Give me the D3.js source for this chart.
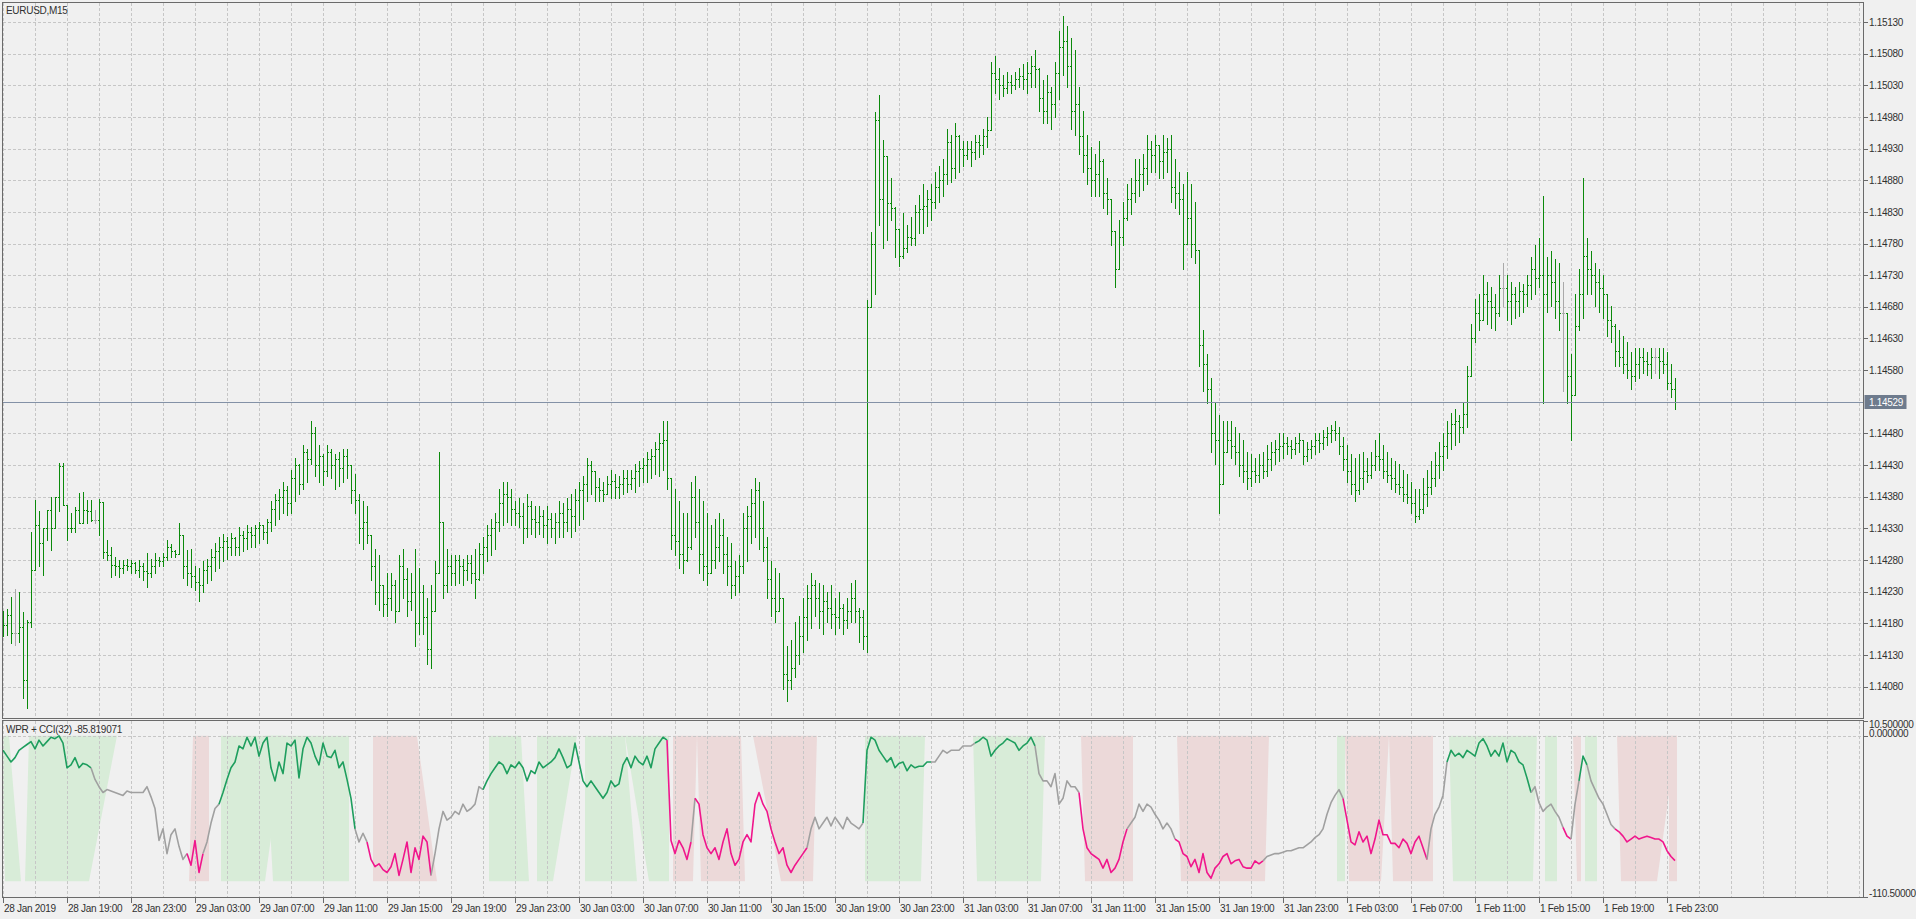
<!DOCTYPE html>
<html><head><meta charset="utf-8">
<script src="https://cdn.jsdelivr.net/npm/d3@7"></script>
<style>
html,body{margin:0;padding:0;background:#f0f0f0;overflow:hidden}
svg{display:block}
text{font-family:"Liberation Sans",Arial,sans-serif;font-size:10px;fill:#303030;letter-spacing:-0.3px}
</style></head><body>
<svg id="c" width="1916" height="919"></svg>
<script>
const symbolLabel = "EURUSD,M15";
const indicatorLabel = "WPR + CCI(32) -85.819071";
const timeLabels = ["28 Jan 2019","28 Jan 19:00","28 Jan 23:00","29 Jan 03:00","29 Jan 07:00","29 Jan 11:00","29 Jan 15:00","29 Jan 19:00","29 Jan 23:00","30 Jan 03:00","30 Jan 07:00","30 Jan 11:00","30 Jan 15:00","30 Jan 19:00","30 Jan 23:00","31 Jan 03:00","31 Jan 07:00","31 Jan 11:00","31 Jan 15:00","31 Jan 19:00","31 Jan 23:00","1 Feb 03:00","1 Feb 07:00","1 Feb 11:00","1 Feb 15:00","1 Feb 19:00","1 Feb 23:00"];
const timeLabelBars = [0,16,32,48,64,80,96,112,128,144,160,176,192,208,224,240,256,272,288,304,320,336,352,368,384,400,416];
const priceTicks = [1.15130,1.15080,1.15030,1.14980,1.14930,1.14880,1.14830,1.14780,1.14730,1.14680,1.14630,1.14580,1.14530,1.14480,1.14430,1.14380,1.14330,1.14280,1.14230,1.14180,1.14130,1.14080];
const priceTickLabels = ["1.15130","1.15080","1.15030","1.14980","1.14930","1.14880","1.14830","1.14780","1.14730","1.14680","1.14630","1.14580","","1.14480","1.14430","1.14380","1.14330","1.14280","1.14230","1.14180","1.14130","1.14080"];
const currentPrice = 1.14529;
const indTicks = [10.5, 0, -110.5];
const indTickLabels = ["10.500000","0.000000","-110.500000"];

const high = [
1.14200,1.14203,1.14222,1.14234,1.14230,1.14198,1.14185,1.14325,1.14375,1.14357,
1.14331,1.14359,1.14380,1.14380,1.14433,1.14433,1.14354,1.14354,1.14364,1.14386,
1.14388,1.14375,1.14375,1.14359,1.14377,1.14335,1.14312,1.14301,1.14285,1.14280,
1.14280,1.14282,1.14280,1.14277,1.14280,1.14275,1.14291,1.14282,1.14291,1.14285,
1.14291,1.14312,1.14306,1.14296,1.14338,1.14312,1.14296,1.14298,1.14270,1.14268,
1.14278,1.14282,1.14297,1.14307,1.14317,1.14321,1.14317,1.14323,1.14317,1.14332,
1.14326,1.14336,1.14332,1.14336,1.14340,1.14336,1.14345,1.14374,1.14384,1.14393,
1.14403,1.14397,1.14422,1.14442,1.14432,1.14461,1.14455,1.14499,1.14490,1.14461,
1.14447,1.14461,1.14455,1.14447,1.14451,1.14455,1.14455,1.14422,1.14416,1.14384,
1.14374,1.14365,1.14317,1.14297,1.14288,1.14240,1.14259,1.14259,1.14249,1.14288,
1.14297,1.14268,1.14259,1.14297,1.14268,1.14240,1.14220,1.14240,1.14278,1.14451,
1.14317,1.14297,1.14288,1.14288,1.14288,1.14282,1.14288,1.14288,1.14297,1.14307,
1.14317,1.14336,1.14345,1.14355,1.14393,1.14403,1.14403,1.14393,1.14374,1.14378,
1.14370,1.14384,1.14374,1.14365,1.14365,1.14359,1.14365,1.14355,1.14355,1.14374,
1.14370,1.14378,1.14384,1.14393,1.14403,1.14413,1.14442,1.14436,1.14416,1.14409,
1.14403,1.14413,1.14422,1.14416,1.14413,1.14422,1.14422,1.14422,1.14432,1.14436,
1.14442,1.14451,1.14455,1.14466,1.14480,1.14499,1.14499,1.14410,1.14393,1.14374,
1.14355,1.14355,1.14403,1.14413,1.14393,1.14374,1.14355,1.14336,1.14345,1.14355,
1.14345,1.14317,1.14307,1.14278,1.14288,1.14355,1.14365,1.14393,1.14409,1.14403,
1.14374,1.14317,1.14278,1.14268,1.14259,1.14220,1.14144,1.14153,1.14182,1.14192,
1.14220,1.14240,1.14259,1.14249,1.14244,1.14240,1.14230,1.14240,1.14220,1.14230,
1.14211,1.14220,1.14244,1.14249,1.14205,1.14201,1.14691,1.14798,1.14988,1.15015,
1.14944,1.14860,1.14884,1.14838,1.14803,1.14829,1.14809,1.14822,1.14841,1.14857,
1.14874,1.14865,1.14874,1.14893,1.14903,1.14913,1.14961,1.14951,1.14970,1.14951,
1.14942,1.14942,1.14942,1.14951,1.14951,1.14961,1.14980,1.15067,1.15076,1.15057,
1.15047,1.15051,1.15047,1.15051,1.15057,1.15063,1.15067,1.15076,1.15086,1.15057,
1.15038,1.15047,1.15028,1.15067,1.15115,1.15140,1.15124,1.15105,1.15086,1.15028,
1.14990,1.14951,1.14932,1.14922,1.14942,1.14913,1.14884,1.14836,1.14797,1.14817,
1.14845,1.14874,1.14884,1.14913,1.14913,1.14922,1.14951,1.14942,1.14951,1.14932,
1.14951,1.14947,1.14951,1.14913,1.14893,1.14874,1.14893,1.14874,1.14845,1.14770,
1.14643,1.14605,1.14567,1.14528,1.14509,1.14499,1.14499,1.14499,1.14490,1.14480,
1.14470,1.14451,1.14447,1.14442,1.14447,1.14451,1.14461,1.14466,1.14470,1.14480,
1.14480,1.14474,1.14470,1.14474,1.14480,1.14470,1.14466,1.14470,1.14480,1.14480,
1.14486,1.14490,1.14493,1.14499,1.14490,1.14474,1.14461,1.14447,1.14442,1.14447,
1.14451,1.14442,1.14451,1.14470,1.14480,1.14461,1.14451,1.14442,1.14436,1.14432,
1.14422,1.14416,1.14403,1.14393,1.14393,1.14409,1.14422,1.14436,1.14451,1.14466,
1.14480,1.14499,1.14513,1.14518,1.14509,1.14528,1.14586,1.14653,1.14692,1.14701,
1.14730,1.14720,1.14711,1.14701,1.14730,1.14749,1.14730,1.14720,1.14711,1.14720,
1.14716,1.14730,1.14759,1.14778,1.14788,1.14855,1.14759,1.14768,1.14755,1.14749,
1.14720,1.14663,1.14605,1.14701,1.14740,1.14884,1.14788,1.14768,1.14749,1.14740,
1.14730,1.14701,1.14682,1.14653,1.14643,1.14634,1.14624,1.14609,1.14615,1.14615,
1.14615,1.14609,1.14615,1.14615,1.14615,1.14615,1.14609,1.14590,1.14567];

const low = [
1.14160,1.14162,1.14149,1.14146,1.14151,1.14062,1.14046,1.14174,1.14296,1.14270,
1.14256,1.14312,1.14296,1.14333,1.14357,1.14367,1.14312,1.14325,1.14325,1.14339,
1.14341,1.14339,1.14341,1.14339,1.14320,1.14283,1.14280,1.14254,1.14256,1.14254,
1.14260,1.14264,1.14259,1.14259,1.14254,1.14248,1.14238,1.14254,1.14259,1.14270,
1.14270,1.14280,1.14285,1.14285,1.14293,1.14251,1.14241,1.14237,1.14233,1.14216,
1.14230,1.14244,1.14249,1.14263,1.14268,1.14278,1.14282,1.14288,1.14288,1.14288,
1.14294,1.14297,1.14301,1.14301,1.14307,1.14313,1.14307,1.14326,1.14336,1.14345,
1.14355,1.14351,1.14355,1.14374,1.14384,1.14393,1.14403,1.14432,1.14413,1.14403,
1.14399,1.14413,1.14409,1.14393,1.14397,1.14403,1.14409,1.14370,1.14355,1.14307,
1.14297,1.14307,1.14249,1.14211,1.14201,1.14192,1.14192,1.14201,1.14182,1.14211,
1.14220,1.14192,1.14201,1.14144,1.14163,1.14163,1.14115,1.14109,1.14201,1.14260,
1.14220,1.14230,1.14240,1.14240,1.14244,1.14240,1.14249,1.14244,1.14220,1.14249,
1.14259,1.14278,1.14288,1.14297,1.14326,1.14336,1.14340,1.14336,1.14336,1.14332,
1.14307,1.14317,1.14321,1.14317,1.14321,1.14317,1.14307,1.14317,1.14307,1.14317,
1.14317,1.14326,1.14317,1.14326,1.14336,1.14345,1.14374,1.14384,1.14374,1.14374,
1.14374,1.14384,1.14378,1.14378,1.14378,1.14384,1.14388,1.14393,1.14388,1.14397,
1.14403,1.14403,1.14409,1.14416,1.14413,1.14422,1.14393,1.14297,1.14288,1.14268,
1.14259,1.14278,1.14297,1.14317,1.14259,1.14249,1.14240,1.14259,1.14268,1.14278,
1.14259,1.14240,1.14220,1.14224,1.14230,1.14259,1.14278,1.14307,1.14317,1.14297,
1.14278,1.14220,1.14192,1.14182,1.14201,1.14076,1.14057,1.14076,1.14095,1.14115,
1.14134,1.14153,1.14172,1.14192,1.14172,1.14163,1.14182,1.14172,1.14163,1.14172,
1.14163,1.14172,1.14182,1.14182,1.14150,1.14140,1.14134,1.14680,1.14700,1.14809,
1.14773,1.14786,1.14817,1.14759,1.14745,1.14757,1.14767,1.14778,1.14778,1.14797,
1.14797,1.14807,1.14817,1.14836,1.14845,1.14855,1.14874,1.14878,1.14884,1.14893,
1.14903,1.14913,1.14903,1.14913,1.14917,1.14922,1.14932,1.14965,1.15018,1.15009,
1.15013,1.15018,1.15018,1.15024,1.15028,1.15024,1.15018,1.15028,1.15028,1.14990,
1.14970,1.14970,1.14961,1.14980,1.15009,1.15047,1.15028,1.14961,1.14951,1.14922,
1.14893,1.14874,1.14855,1.14855,1.14855,1.14836,1.14826,1.14778,1.14711,1.14740,
1.14778,1.14817,1.14826,1.14845,1.14855,1.14865,1.14874,1.14893,1.14893,1.14884,
1.14884,1.14893,1.14845,1.14836,1.14826,1.14740,1.14788,1.14759,1.14749,1.14586,
1.14547,1.14528,1.14451,1.14432,1.14355,1.14432,1.14451,1.14442,1.14432,1.14413,
1.14403,1.14393,1.14397,1.14403,1.14403,1.14409,1.14413,1.14422,1.14432,1.14436,
1.14442,1.14447,1.14442,1.14447,1.14451,1.14432,1.14436,1.14442,1.14447,1.14451,
1.14455,1.14461,1.14466,1.14470,1.14447,1.14422,1.14403,1.14384,1.14374,1.14384,
1.14393,1.14403,1.14409,1.14422,1.14422,1.14409,1.14403,1.14393,1.14388,1.14384,
1.14374,1.14370,1.14355,1.14340,1.14345,1.14355,1.14365,1.14384,1.14397,1.14409,
1.14422,1.14442,1.14455,1.14461,1.14466,1.14480,1.14490,1.14570,1.14624,1.14643,
1.14659,1.14653,1.14647,1.14643,1.14666,1.14682,1.14659,1.14653,1.14663,1.14666,
1.14672,1.14682,1.14692,1.14701,1.14711,1.14528,1.14672,1.14682,1.14663,1.14643,
1.14547,1.14528,1.14470,1.14586,1.14643,1.14663,1.14701,1.14701,1.14682,1.14672,
1.14663,1.14634,1.14624,1.14586,1.14586,1.14576,1.14567,1.14551,1.14563,1.14567,
1.14576,1.14572,1.14567,1.14576,1.14567,1.14576,1.14551,1.14538,1.14518];

const close = [
1.14177,1.14193,1.14165,1.14165,1.14174,1.14090,1.14182,1.14264,1.14335,1.14307,
1.14331,1.14359,1.14331,1.14380,1.14428,1.14367,1.14330,1.14331,1.14359,1.14339,
1.14359,1.14357,1.14343,1.14343,1.14372,1.14293,1.14288,1.14272,1.14270,1.14268,
1.14272,1.14270,1.14275,1.14265,1.14270,1.14262,1.14260,1.14270,1.14280,1.14278,
1.14285,1.14300,1.14295,1.14290,1.14320,1.14270,1.14260,1.14255,1.14245,1.14240,
1.14265,1.14270,1.14285,1.14295,1.14300,1.14310,1.14300,1.14315,1.14300,1.14320,
1.14315,1.14325,1.14320,1.14330,1.14335,1.14325,1.14340,1.14360,1.14375,1.14380,
1.14390,1.14370,1.14410,1.14430,1.14400,1.14450,1.14440,1.14480,1.14430,1.14445,
1.14420,1.14450,1.14430,1.14440,1.14425,1.14445,1.14430,1.14390,1.14375,1.14330,
1.14340,1.14320,1.14270,1.14230,1.14240,1.14210,1.14220,1.14240,1.14200,1.14270,
1.14250,1.14215,1.14230,1.14180,1.14230,1.14190,1.14140,1.14200,1.14260,1.14340,
1.14240,1.14270,1.14260,1.14280,1.14270,1.14265,1.14275,1.14260,1.14250,1.14290,
1.14300,1.14320,1.14330,1.14340,1.14370,1.14385,1.14380,1.14360,1.14355,1.14350,
1.14330,1.14365,1.14345,1.14340,1.14350,1.14335,1.14345,1.14330,1.14340,1.14355,
1.14340,1.14360,1.14350,1.14375,1.14390,1.14400,1.14430,1.14420,1.14395,1.14390,
1.14385,1.14400,1.14405,1.14395,1.14400,1.14410,1.14400,1.14410,1.14420,1.14425,
1.14430,1.14440,1.14445,1.14455,1.14465,1.14470,1.14410,1.14320,1.14310,1.14290,
1.14280,1.14300,1.14380,1.14340,1.14290,1.14270,1.14260,1.14280,1.14300,1.14320,
1.14290,1.14270,1.14240,1.14255,1.14270,1.14330,1.14350,1.14370,1.14390,1.14330,
1.14300,1.14250,1.14220,1.14200,1.14220,1.14100,1.14090,1.14110,1.14130,1.14160,
1.14190,1.14220,1.14240,1.14220,1.14200,1.14215,1.14205,1.14195,1.14190,1.14205,
1.14185,1.14200,1.14220,1.14200,1.14190,1.14160,1.14680,1.14780,1.14975,1.14850,
1.14919,1.14844,1.14836,1.14803,1.14760,1.14773,1.14790,1.14789,1.14830,1.14835,
1.14840,1.14850,1.14845,1.14870,1.14880,1.14890,1.14940,1.14900,1.14950,1.14930,
1.14920,1.14930,1.14925,1.14940,1.14935,1.14950,1.14960,1.15050,1.15040,1.15030,
1.15025,1.15035,1.15030,1.15040,1.15045,1.15040,1.15050,1.15060,1.15055,1.15010,
1.14990,1.15020,1.15000,1.15050,1.15090,1.15100,1.15060,1.14990,1.15000,1.14950,
1.14920,1.14900,1.14880,1.14890,1.14910,1.14860,1.14850,1.14800,1.14740,1.14790,
1.14820,1.14850,1.14860,1.14880,1.14890,1.14900,1.14930,1.14920,1.14935,1.14910,
1.14925,1.14930,1.14870,1.14860,1.14850,1.14780,1.14820,1.14780,1.14770,1.14620,
1.14590,1.14550,1.14480,1.14470,1.14400,1.14450,1.14470,1.14460,1.14450,1.14430,
1.14420,1.14410,1.14420,1.14415,1.14430,1.14420,1.14440,1.14450,1.14455,1.14460,
1.14465,1.14460,1.14455,1.14465,1.14470,1.14445,1.14455,1.14460,1.14470,1.14465,
1.14475,1.14480,1.14485,1.14480,1.14460,1.14440,1.14420,1.14400,1.14390,1.14410,
1.14420,1.14415,1.14430,1.14445,1.14440,1.14420,1.14415,1.14410,1.14400,1.14395,
1.14385,1.14380,1.14370,1.14350,1.14360,1.14385,1.14395,1.14410,1.14430,1.14445,
1.14460,1.14480,1.14495,1.14500,1.14490,1.14510,1.14570,1.14630,1.14670,1.14660,
1.14700,1.14690,1.14680,1.14670,1.14710,1.14710,1.14690,1.14700,1.14690,1.14705,
1.14700,1.14715,1.14740,1.14725,1.14730,1.14700,1.14730,1.14720,1.14690,1.14670,
1.14670,1.14570,1.14540,1.14650,1.14700,1.14760,1.14740,1.14730,1.14720,1.14710,
1.14700,1.14660,1.14650,1.14610,1.14600,1.14590,1.14580,1.14570,1.14590,1.14600,
1.14595,1.14590,1.14600,1.14600,1.14595,1.14590,1.14560,1.14550,1.14529];
const firstOpen = 1.14185;

const wpr = [
-10,-14,-18,-15,-10,-8,-6,-4,-9,-3,
-7,-4,-1,-2,0,-5,-22,-20,-15,-22,
-19,-20,-22,-30,-35,-39,-37,-38,-39,-40,
-41,-38,-39,-39,-39,-39,-35,-42,-50,-72,
-64,-81,-68,-64,-76,-85,-81,-89,-72,-94,
-81,-73,-60,-50,-47,-39,-30,-22,-18,-7,
-9,-1,-7,-1,-14,-5,-1,-22,-31,-18,
-26,-5,-7,-3,-29,-9,-1,-5,-14,-20,
-5,-14,-15,-10,-22,-18,-30,-43,-64,-73,
-67,-73,-85,-90,-88,-92,-94,-90,-81,-96,
-85,-73,-94,-77,-85,-69,-73,-96,-81,-64,
-52,-58,-56,-52,-54,-47,-52,-50,-47,-35,
-37,-31,-26,-22,-18,-20,-26,-20,-22,-18,
-22,-31,-24,-26,-18,-22,-20,-18,-15,-9,
-15,-22,-20,-5,-18,-31,-35,-31,-35,-39,
-43,-39,-31,-35,-33,-20,-15,-22,-14,-18,
-20,-14,-22,-9,-5,-1,-3,-72,-81,-72,
-77,-85,-73,-43,-47,-68,-77,-81,-77,-85,
-73,-64,-81,-89,-85,-73,-68,-73,-47,-39,
-47,-52,-64,-73,-81,-77,-89,-94,-89,-85,
-81,-77,-64,-56,-64,-60,-56,-62,-56,-60,
-64,-56,-60,-62,-64,-60,-10,-1,-3,-10,
-14,-18,-15,-22,-19,-18,-24,-20,-22,-21,
-21,-18,-18,-18,-14,-10,-12,-10,-10,-10,
-7,-7,-7,-5,-3.5,-1,-3,-14,-10,-7,
-5,-2,-3.5,-5,-10,-7,-5,-1,-7,-26,
-31,-31,-35,-26,-47,-43,-31,-35,-35,-39,
-64,-77,-81,-83,-85,-91,-85,-94,-91,-85,
-73,-64,-60,-56,-47,-52,-47,-49,-54,-58,
-64,-60,-64,-71,-73,-81,-83,-90,-85,-94,
-81,-94,-98,-91,-88,-83,-81,-88,-86,-85,
-90,-91,-91,-86,-88,-86,-83,-82,-81,-81,
-80,-79,-79,-78,-77,-77,-75,-73,-70,-68,
-64,-54,-46,-41,-37,-43,-58,-73,-75,-66,
-73,-69,-81,-71,-58,-68,-68,-74,-74,-77,
-71,-74,-81,-73,-69,-77,-85,-64,-54,-49,
-41,-18,-10,-14,-12,-15,-10,-12,-14,-5,
-2,-7,-14,-10,-14,-5,-18,-10,-12,-18,
-20,-29,-39,-35,-46,-52,-49,-47,-52,-56,
-63,-69,-71,-47,-31,-14,-20,-31,-37,-43,
-47,-54,-61,-64,-66,-69,-73,-71,-69,-71,
-70,-69,-70,-71,-71,-73,-79,-83,-85.819071];

// line colour runs: [firstBar, lastBar, state]
const lineColorRuns = [
[0,22,"up"],[23,46,"flat"],[47,50,"down"],[51,54,"flat"],[55,88,"up"],[89,91,"flat"],
[92,107,"down"],[108,120,"flat"],[121,166,"up"],[167,172,"down"],[173,173,"flat"],
[174,201,"down"],[202,215,"flat"],[216,232,"up"],[233,243,"flat"],[244,258,"up"],
[259,269,"flat"],[270,281,"down"],[282,293,"flat"],[294,315,"down"],[316,335,"flat"],
[336,356,"down"],[357,361,"flat"],[362,382,"up"],[383,390,"flat"],[391,392,"down"],
[393,394,"flat"],[395,396,"up"],[397,403,"flat"],[404,418,"down"]];

// background zones: [state, topFirstBar, topLastBar, bottomFirstBar, bottomLastBar]
const zones = [
["up",0,1,1,4],["up",7,28,6,21],["down",48,51,47,51],["up",55,70,55,65],["up",66,86,68,86],
["down",93,103,93,108],["up",122,129,122,131],["up",134,143,134,137],["up",146,155,146,158],
["up",156,166,162,166],["down",168,173,168,172],["down",174,184,175,185],["down",188,203,195,202],
["up",216,230,216,229],["up",243,260,244,259],["down",270,282,271,282],["down",294,298,295,298],
["down",299,316,299,315],["up",334,335,334,335],["down",336,346,337,344],["down",347,357,348,357],
["up",362,383,363,382],["up",386,388,386,388],["down",393,394,394,394],["up",396,398,396,398],
["down",404,418,405,413],["down",417,418,417,418]];

const svg = d3.select("#c");
const W = 1916, H = 919;
const L = 2.5, R = 1863.5, MT = 2.5, MB = 718.5, IT = 720.5, IB = 897.5;
const nBars = close.length;
const x = d3.scaleLinear().domain([0, nBars - 1]).range([3, 3 + 4 * (nBars - 1)]);
const y = d3.scaleLinear().domain([1.15130, 1.14080]).range([22, 686.65]);
const yi = d3.scaleLinear().domain([10.5, -110.5]).range([720.5, 896.5]);

svg.append("rect").attr("width", W).attr("height", H).attr("fill", "#f0f0f0");

const defs = svg.append("defs");
defs.append("clipPath").attr("id", "cm").append("rect").attr("x", L).attr("y", MT).attr("width", R - L).attr("height", MB - MT);
defs.append("clipPath").attr("id", "ci").append("rect").attr("x", L).attr("y", IT).attr("width", R - L).attr("height", IB - IT);

const gridColor = "#c6c6c6";
const gridBars = d3.range(0, 466, 8);
const gm = svg.append("g").attr("clip-path", "url(#cm)").attr("shape-rendering", "crispEdges");
gm.selectAll("line.v").data(gridBars).join("line")
  .attr("x1", d => Math.round(x(d)) + 0.5).attr("x2", d => Math.round(x(d)) + 0.5)
  .attr("y1", MT).attr("y2", MB).attr("stroke", gridColor).attr("stroke-dasharray", "3,2");
gm.selectAll("line.h").data(priceTicks).join("line")
  .attr("x1", L).attr("x2", R).attr("y1", d => Math.round(y(d)) + 0.5).attr("y2", d => Math.round(y(d)) + 0.5)
  .attr("stroke", gridColor).attr("stroke-dasharray", "3,2");

const gi = svg.append("g").attr("clip-path", "url(#ci)");
const zoneFill = { up: "#d8ecd8", down: "#ecd9d9" };
gi.selectAll("path.zone").data(zones).join("path")
  .attr("fill", d => zoneFill[d[0]])
  .attr("d", d => {
    const t = yi(0), b = yi(-100);
    return `M${x(d[1]) - 2},${t}L${x(d[2]) + 2},${t}L${x(d[4]) + 2},${b}L${x(d[3]) - 2},${b}Z`;
  });
const gig = gi.append("g").attr("shape-rendering", "crispEdges");
gig.selectAll("line.v").data(gridBars).join("line")
  .attr("x1", d => Math.round(x(d)) + 0.5).attr("x2", d => Math.round(x(d)) + 0.5)
  .attr("y1", IT).attr("y2", IB).attr("stroke", gridColor).attr("stroke-dasharray", "3,2");
gig.append("line").attr("x1", L).attr("x2", R).attr("y1", Math.round(yi(0)) + 0.5).attr("y2", Math.round(yi(0)) + 0.5)
  .attr("stroke", gridColor).attr("stroke-dasharray", "3,2");

const lineColor = { up: "#1e9e5e", flat: "#a0a0a0", down: "#f0168c" };
const ln = d3.line().x(i => x(i)).y(i => yi(wpr[i]));
lineColorRuns.forEach(r => {
  const idx = d3.range(Math.max(0, r[0] - 1), r[1] + 1);
  gi.append("path").attr("d", ln(idx)).attr("fill", "none")
    .attr("stroke", lineColor[r[2]]).attr("stroke-width", 1.6).attr("stroke-linejoin", "round");
});

const gb = svg.append("g").attr("clip-path", "url(#cm)").attr("shape-rendering", "crispEdges");
const bars = d3.range(nBars).map(i => {
  const o = i === 0 ? firstOpen : close[i - 1];
  return { i, o, h: Math.max(high[i], o, close[i]), l: Math.min(low[i], o, close[i]), c: close[i] };
});
bars.forEach(b => {
  const X = Math.round(x(b.i));
  const col = Math.round(b.o * 1e5) === Math.round(b.c * 1e5) ? "#a9a9a9" : "#0b8a0b";
  const yt = Math.round(y(b.h)), yb = Math.round(y(b.l));
  gb.append("rect").attr("x", X).attr("y", yt).attr("width", 1).attr("height", Math.max(1, yb - yt + 1)).attr("fill", col);
  gb.append("rect").attr("x", X - 1).attr("y", Math.round(y(b.o))).attr("width", 1).attr("height", 1).attr("fill", col);
  gb.append("rect").attr("x", X + 1).attr("y", Math.round(y(b.c))).attr("width", 1).attr("height", 1).attr("fill", col);
});

const cpY = Math.round(y(currentPrice)) + 0.5;
svg.append("line").attr("x1", L).attr("x2", R).attr("y1", cpY).attr("y2", cpY)
  .attr("stroke", "#8391a6").attr("stroke-width", 1).attr("shape-rendering", "crispEdges");

const fr = svg.append("g").attr("fill", "none").attr("stroke", "#6a6a6a").attr("shape-rendering", "crispEdges");
fr.append("rect").attr("x", L).attr("y", MT).attr("width", R - L).attr("height", MB - MT);
fr.append("rect").attr("x", L).attr("y", IT).attr("width", R - L).attr("height", IB - IT);

const ax = svg.append("g");
ax.selectAll("line.t").data(priceTicks.filter((d, k) => priceTickLabels[k] !== "")).join("line")
  .attr("x1", R).attr("x2", R + 4).attr("y1", d => Math.round(y(d)) + 0.5).attr("y2", d => Math.round(y(d)) + 0.5)
  .attr("stroke", "#6a6a6a").attr("shape-rendering", "crispEdges");
ax.selectAll("text.p").data(priceTicks.map((d, k) => [d, priceTickLabels[k]]).filter(d => d[1] !== "")).join("text")
  .attr("x", R + 5.5).attr("y", d => y(d[0]) + 3.6).text(d => d[1]);
svg.append("rect").attr("x", R + 1).attr("y", cpY - 7.5).attr("width", 42).attr("height", 14).attr("fill", "#6e7b8d");
svg.append("text").attr("x", R + 5.5).attr("y", cpY + 3.6).style("fill", "#ffffff").text(currentPrice.toFixed(5));

const indLabY = [yi(indTicks[0]) + 7.5, yi(indTicks[1]) + 1.5, yi(indTicks[2]) + 0];
ax.selectAll("line.it").data(indTicks).join("line")
  .attr("x1", R).attr("x2", R + 4).attr("y1", d => Math.round(yi(d)) + 0.5).attr("y2", d => Math.round(yi(d)) + 0.5)
  .attr("stroke", "#6a6a6a").attr("shape-rendering", "crispEdges");
ax.selectAll("text.i").data(indTicks).join("text")
  .attr("x", R + 5.5).attr("y", (d, k) => indLabY[k]).text((d, k) => indTickLabels[k]);

ax.selectAll("line.tt").data(timeLabelBars).join("line")
  .attr("x1", d => Math.round(x(d)) + 0.5).attr("x2", d => Math.round(x(d)) + 0.5)
  .attr("y1", IB).attr("y2", IB + 5).attr("stroke", "#6a6a6a").attr("shape-rendering", "crispEdges");
ax.selectAll("text.t").data(timeLabelBars).join("text")
  .attr("x", d => x(d) + 1).attr("y", 911.5).text((d, k) => timeLabels[k]);

svg.append("text").attr("x", 6).attr("y", 13.5).text(symbolLabel);
svg.append("text").attr("x", 6).attr("y", 732.5).text(indicatorLabel);
</script>
</body></html>
